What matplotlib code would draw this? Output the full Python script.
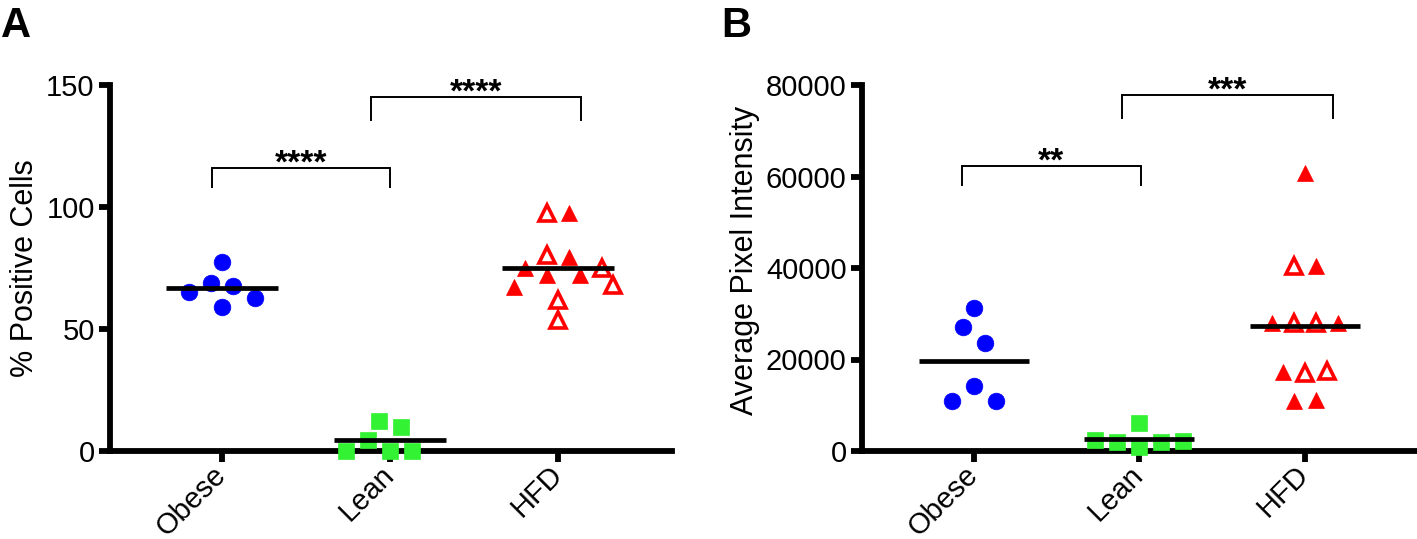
import matplotlib
matplotlib.use('Agg')
import matplotlib.pyplot as plt
import numpy as np

plt.rcParams['font.family'] = ['Liberation Sans', 'DejaVu Sans']

# ---------------- data ----------------
categories = ['Obese', 'Lean', 'HFD']

# Panel A: % Positive Cells
obese_a = [65.2, 59.0, 77.6, 62.7, 68.9, 67.6]
lean_a = [0.0, 12.4, 0.0, 10.0, 0.0, 4.6]
hfd_a = [97.4, 97.4, 80.3, 79.6, 74.9, 72.1, 72.1, 74.9, 67.3, 68.0, 61.9, 53.7]
hfd_a_open = [True, False, True, False, False, False, False, True, False, True, True, True]

# Panel B: Average Pixel Intensity
obese_b = [31200, 27000, 23500, 14300, 10900, 10900]
lean_b = [2400, 2000, 6050, 950, 2000, 2250]
hfd_b = [60700, 40400, 40400, 27900, 27900, 27900, 27900, 17350, 17000, 17550, 11000, 11150]
hfd_b_open = [False, True, False, False, True, True, False, False, True, True, False, False]

sig_a = ['****', '****']
sig_b = ['**', '***']
yticks_a = [0, 50, 100, 150]
yticks_b = [0, 20000, 40000, 60000, 80000]
ylabel_a = '% Positive Cells'
ylabel_b = 'Average Pixel Intensity'

BLUE = '#0000FF'
GREEN = '#33F233'
RED = '#FF0000'

W, H = 1417, 539
fig = plt.figure(figsize=(W / 100, H / 100), dpi=100)

ax_a = fig.add_axes([110 / W, 88 / H, 562 / W, 366 / H])
ax_b = fig.add_axes([862 / W, 88 / H, 555 / W, 366 / H])

SPINE_LW = 4.2
FS = 21


def style_axes(ax, yticks, ymax, xlim):
    ax.set_xlim(*xlim)
    ax.set_ylim(0, ymax)
    for s in ['top', 'right']:
        ax.spines[s].set_visible(False)
    for s in ['left', 'bottom']:
        ax.spines[s].set_linewidth(SPINE_LW)
        ax.spines[s].set_capstyle('projecting')
    ax.set_yticks(yticks)
    ax.set_yticklabels([str(t) for t in yticks], fontsize=FS)
    ax.set_xticks(range(len(categories)))
    ax.set_xticklabels(categories, fontsize=FS, rotation=45, ha='right',
                       va='center', rotation_mode='anchor')
    ax.tick_params(axis='both', length=8, width=SPINE_LW, direction='out',
                   pad=3)
    ax.tick_params(axis='x', pad=6)


def swarm(ax, xc, vals, step=22, row_px=8, col_px=20):
    """Prism-like column scatter: returns x positions in data units."""
    tr = ax.transData
    ypx = np.array([tr.transform((xc, v))[1] for v in vals])
    x0 = tr.transform((xc, 0))[0]
    x1 = tr.transform((xc + 1, 0))[0]
    pxu = x1 - x0
    order = sorted(range(len(vals)), key=lambda i: -ypx[i])
    rows = []
    for i in order:
        if rows and abs(ypx[rows[-1][0]] - ypx[i]) <= row_px:
            rows[-1].append(i)
        else:
            rows.append([i])
    placed = []
    offs = np.zeros(len(vals))
    half = step / 2.0
    for row in rows:
        row = sorted(row)
        n = len(row)
        for k, i in enumerate(row):
            c = (k - (n - 1) / 2.0) * step
            outward = 1 if c > 0 else -1
            cands = [c + j * half for j in range(-10, 11)]
            cands.sort(key=lambda v: (abs(v - c), 0 if (v - c) * outward >= 0 else 1))
            for v in cands:
                ok = True
                for (px, py) in placed:
                    if np.hypot(v - px, ypx[i] - py) < col_px:
                        ok = False
                        break
                if ok:
                    offs[i] = v
                    placed.append((v, ypx[i]))
                    break
    return [xc + o / pxu for o in offs]


def draw_panel(ax, groups, colors, markers, open_flags):
    for gi, vals in enumerate(groups):
        xs = swarm(ax, gi, vals)
        flags = open_flags[gi] if open_flags[gi] is not None else [False] * len(vals)
        for x, v, f in zip(xs, vals, flags):
            if f:
                ax.plot(x, v, linestyle='none', marker=markers[gi], markersize=11,
                        markerfacecolor='white', markeredgecolor=colors[gi],
                        markeredgewidth=2.6, clip_on=False, zorder=3)
            else:
                ax.plot(x, v, linestyle='none', marker=markers[gi], markersize=12,
                        markerfacecolor=colors[gi], markeredgecolor=colors[gi],
                        markeredgewidth=0.5, clip_on=False, zorder=3)
        m = np.mean(vals)
        ax.plot([gi - 0.333, gi + 0.333], [m, m], color='black', lw=3.4,
                solid_capstyle='butt', zorder=4)


def bracket(ax, x1, x2, y_low, y_high, text):
    ax.plot([x1, x1, x2, x2], [y_low, y_high, y_high, y_low], color='black',
            lw=1.4, clip_on=False, solid_joinstyle='miter')
    ax.annotate(text, xy=((x1 + x2) / 2, y_high), xytext=(0, -3),
                textcoords='offset points', ha='center', va='baseline',
                fontsize=24, fontweight='bold', annotation_clip=False)


# ---- Panel A ----
style_axes(ax_a, yticks_a, 150, (-0.667, 2.68))
draw_panel(ax_a, [obese_a, lean_a, hfd_a], [BLUE, GREEN, RED], ['o', 's', '^'],
           [None, None, hfd_a_open])
ax_a.set_ylabel(ylabel_a, fontsize=22, va='center')
ax_a.yaxis.set_label_coords((25 - 110) / 562, 0.5)
bracket(ax_a, -0.06, 1.0, 108, 116, sig_a[0])
bracket(ax_a, 0.887, 2.137, 135.7, 145, sig_a[1])

# ---- Panel B ----
style_axes(ax_b, yticks_b, 80000, (-0.677, 2.68))
draw_panel(ax_b, [obese_b, lean_b, hfd_b], [BLUE, GREEN, RED], ['o', 's', '^'],
           [None, None, hfd_b_open])
ax_b.set_ylabel(ylabel_b, fontsize=22, va='center')
ax_b.yaxis.set_label_coords((745 - 862) / 555, 0.52)
bracket(ax_b, -0.073, 1.01, 58142, 62295, sig_b[0])
bracket(ax_b, 0.894, 2.17, 72787, 77814, sig_b[1])

fig.text(1 / W, 1 - 37 / H, 'A', fontsize=30, fontweight='bold', ha='left',
         va='baseline')
fig.text(721 / W, 1 - 37 / H, 'B', fontsize=30, fontweight='bold', ha='left',
         va='baseline')

fig.savefig('out.png', dpi=100)
